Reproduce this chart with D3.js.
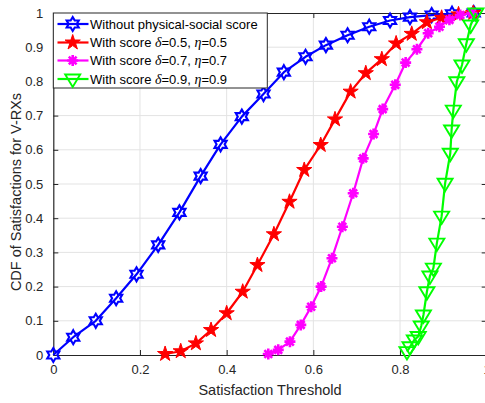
<!DOCTYPE html>
<html><head><meta charset="utf-8">
<script src="https://cdn.jsdelivr.net/npm/d3@7"></script>
<style>body{margin:0;background:#fff}svg{display:block}text{font-family:"Liberation Sans",Arial,sans-serif;fill:#262626}</style>
</head><body><svg id="c" width="485" height="403"></svg>
<script>
const blueX=[0,0.046,0.098,0.145,0.192,0.242,0.291,0.340,0.386,0.435,0.485,0.532,0.582,0.629,0.679,0.729,0.777,0.823,0.873,0.920,0.970];
const blueY=[0,0.052,0.100,0.166,0.236,0.322,0.417,0.523,0.616,0.697,0.763,0.827,0.872,0.906,0.935,0.960,0.978,0.988,0.994,0.998,1.0];
const redX=[0.258,0.294,0.329,0.364,0.400,0.437,0.471,0.509,0.545,0.579,0.617,0.650,0.686,0.721,0.758,0.791,0.827,0.862,0.896,0.935,0.969];
const redY=[0.003,0.011,0.034,0.073,0.122,0.185,0.263,0.353,0.448,0.541,0.614,0.689,0.770,0.824,0.865,0.911,0.939,0.973,0.986,0.996,1.0];
const magX=[0.496,0.519,0.546,0.571,0.595,0.618,0.643,0.667,0.692,0.715,0.739,0.760,0.789,0.813,0.839,0.865,0.891,0.914,0.939,0.966];
const magY=[0.003,0.015,0.039,0.088,0.141,0.200,0.283,0.375,0.473,0.575,0.646,0.719,0.790,0.855,0.894,0.941,0.960,0.980,0.994,1.0];
const grnX=[0.816,0.823,0.833,0.842,0.849,0.854,0.862,0.869,0.877,0.885,0.896,0.904,0.916,0.919,0.923,0.931,0.943,0.953,0.963,0.975];
const grnY=[0.010,0.024,0.044,0.054,0.085,0.117,0.185,0.231,0.254,0.327,0.406,0.502,0.590,0.658,0.716,0.799,0.848,0.910,0.965,1.0];
// legend labels: [plain, italic, plain, italic, plain]
const seriesNames=[
 ["Without physical-social score"],
 ["With score ","\u03b4","=0.5, ","\u03b7","=0.5"],
 ["With score ","\u03b4","=0.7, ","\u03b7","=0.7"],
 ["With score ","\u03b4","=0.9, ","\u03b7","=0.9"]
];
const xTicks=[0,0.2,0.4,0.6,0.8,1];
const yTicks=[0,0.1,0.2,0.3,0.4,0.5,0.6,0.7,0.8,0.9,1];
const xLabel="Satisfaction Threshold";
const yLabel="CDF of Satisfactions for V-RXs";

const svg=d3.select("#c");
const L=53.3,R=486.7,T=13,B=355;
const x=d3.scaleLinear().domain([0,1]).range([L,R]);
const y=d3.scaleLinear().domain([0,1]).range([B,T]);
const axCol="#262626";

// grid
svg.append("g").selectAll("line").data(xTicks.filter(t=>t>0&&t<1)).join("line")
 .attr("x1",d=>x(d)).attr("x2",d=>x(d)).attr("y1",T).attr("y2",B).attr("stroke","#e3e3e3").attr("stroke-width",1);
svg.append("g").selectAll("line").data(yTicks.filter(t=>t>0&&t<1)).join("line")
 .attr("y1",d=>y(d)).attr("y2",d=>y(d)).attr("x1",L).attr("x2",R).attr("stroke","#e3e3e3").attr("stroke-width",1);

// axes via d3
const fmt=d=>d3.format("")(+d.toFixed(1));
const gx=svg.append("g").attr("transform",`translate(0,${B})`).call(d3.axisBottom(x).tickValues(xTicks).tickFormat(fmt).tickSizeInner(-5).tickSizeOuter(0).tickPadding(10));
const gy=svg.append("g").attr("transform",`translate(${L},0)`).call(d3.axisLeft(y).tickValues(yTicks).tickFormat(fmt).tickSizeInner(-5).tickSizeOuter(0).tickPadding(9));
const gxt=svg.append("g").attr("transform",`translate(0,${T})`).call(d3.axisTop(x).tickValues(xTicks).tickFormat("").tickSizeInner(-5).tickSizeOuter(0));
const gyr=svg.append("g").attr("transform",`translate(${R},0)`).call(d3.axisRight(y).tickValues(yTicks).tickFormat("").tickSizeInner(-5).tickSizeOuter(0));
[gx,gy,gxt,gyr].forEach(g=>{g.select(".domain").attr("stroke",axCol).attr("stroke-width",1.2);g.selectAll(".tick line").attr("stroke",axCol);});
gx.selectAll("text").attr("font-size",13).attr("fill",axCol).attr("font-family","Liberation Sans, Arial, sans-serif");
gy.selectAll("text").attr("font-size",13).attr("fill",axCol).attr("font-family","Liberation Sans, Arial, sans-serif").attr("dx",-1);

svg.append("text").attr("x",(L+R)/2).attr("y",395).attr("text-anchor","middle").attr("font-size",14.5).text(xLabel);
svg.append("text").attr("transform",`translate(21,${(T+B)/2+8}) rotate(-90)`).attr("text-anchor","middle").attr("font-size",14.5).text(yLabel);

// symbols
function hexagram(r){const ri=r/Math.sqrt(3);let p="";for(let k=0;k<12;k++){const a=(-90+30*k)*Math.PI/180;const rr=k%2?ri:r;p+=(k?"L":"M")+(rr*Math.cos(a)).toFixed(2)+","+(rr*Math.sin(a)).toFixed(2);}return p+"Z";}
function pentagram(r){const ri=r*0.382;let p="";for(let k=0;k<10;k++){const a=(-90+36*k)*Math.PI/180;const rr=k%2?ri:r;p+=(k?"L":"M")+(rr*Math.cos(a)).toFixed(2)+","+(rr*Math.sin(a)).toFixed(2);}return p+"Z";}
function asterisk(r){const d=r*0.707;return `M${-r},0L${r},0M0,${-r}L0,${r}M${-d},${-d}L${d},${d}M${-d},${d}L${d},${-d}`;}
function triDown(r){return `M${-r},${-r*0.6}L${r},${-r*0.6}L0,${r*1.05}Z`;}

const series=[
 {xs:blueX,ys:blueY,color:"#0000ff",path:hexagram(7),fill:"none",sw:2.1},
 {xs:redX,ys:redY,color:"#ff0000",path:pentagram(8),fill:"#ff0000",sw:1},
 {xs:magX,ys:magY,color:"#ff00ff",path:asterisk(5.5),fill:"none",sw:2.6},
 {xs:grnX,ys:grnY,color:"#00ff00",path:triDown(7.5),fill:"none",sw:1.9}
];
const line=d3.line().x(d=>x(d[0])).y(d=>y(d[1]));
series.forEach(s=>{
 const pts=s.xs.map((v,i)=>[v,s.ys[i]]);
 const g=svg.append("g");
 g.append("path").attr("d",line(pts)).attr("fill","none").attr("stroke",s.color).attr("stroke-width",2.2).attr("stroke-linejoin","round");
 g.selectAll(".m").data(pts).join("path").attr("class","m").attr("d",s.path)
  .attr("transform",d=>`translate(${x(d[0])},${y(d[1])})`).attr("fill",s.fill).attr("stroke",s.color).attr("stroke-width",s.sw).attr("stroke-linejoin","miter");
});

// legend
const lg=svg.append("g");
lg.append("rect").attr("x",L).attr("y",T).attr("width",214).attr("height",75).attr("fill","#fff").attr("stroke",axCol).attr("stroke-width",1);
const rowsY=[24,42.5,60.5,79];
series.forEach((s,i)=>{
 lg.append("line").attr("x1",57.5).attr("x2",88.5).attr("y1",rowsY[i]).attr("y2",rowsY[i]).attr("stroke",s.color).attr("stroke-width",2.2);
 lg.append("path").attr("d",s.path).attr("transform",`translate(72.7,${rowsY[i]})`).attr("fill",s.fill).attr("stroke",s.color).attr("stroke-width",s.sw);
 const t=lg.append("text").attr("x",90).attr("y",rowsY[i]).attr("dy","0.35em").attr("font-size",13).attr("fill","#000");
 seriesNames[i].forEach((part,j)=>{
  const sp=t.append("tspan").attr("fill","#000").text(part);
  if(j%2===1) sp.attr("font-style","italic").attr("font-family","Liberation Serif, Times New Roman, serif").attr("font-size",14);
 });
});
</script></body></html>
